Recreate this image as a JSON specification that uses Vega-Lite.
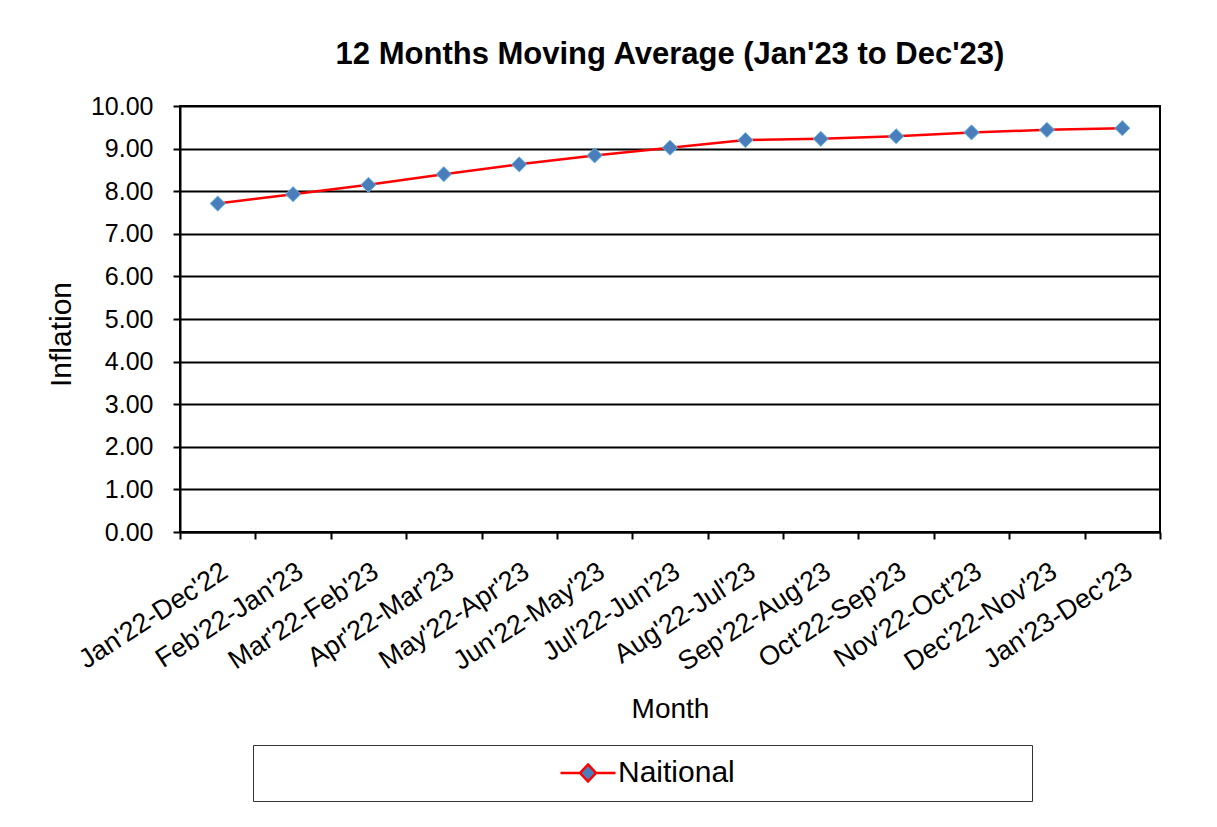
{
  "$schema": "https://vega.github.io/schema/vega-lite/v6.json",
  "width": 980,
  "height": 426,
  "autosize": {"type": "none"},
  "padding": {"left": 180, "top": 106, "right": 57, "bottom": 295},
  "background": "white",
  "title": {
    "text": "12 Months Moving Average (Jan'23 to Dec'23)",
    "fontSize": 31,
    "fontWeight": "bold",
    "font": "Liberation Sans",
    "color": "black",
    "offset": 23,
    "anchor": "middle"
  },
  "config": {
    "font": "Liberation Sans",
    "view": {"stroke": "black", "strokeWidth": 2},
    "axis": {
      "labelFont": "Liberation Sans",
      "titleFont": "Liberation Sans",
      "labelColor": "black",
      "titleColor": "black",
      "titleFontWeight": "normal",
      "domainColor": "black",
      "domainWidth": 2,
      "tickColor": "black",
      "tickWidth": 2,
      "gridColor": "black",
      "gridWidth": 2,
      "gridOpacity": 1
    }
  },
  "data": {
    "values": [
      {"month": "Jan'22-Dec'22", "inflation": 7.71, "series": "Naitional"},
      {"month": "Feb'22-Jan'23", "inflation": 7.93, "series": "Naitional"},
      {"month": "Mar'22-Feb'23", "inflation": 8.15, "series": "Naitional"},
      {"month": "Apr'22-Mar'23", "inflation": 8.40, "series": "Naitional"},
      {"month": "May'22-Apr'23", "inflation": 8.63, "series": "Naitional"},
      {"month": "Jun'22-May'23", "inflation": 8.84, "series": "Naitional"},
      {"month": "Jul'22-Jun'23", "inflation": 9.02, "series": "Naitional"},
      {"month": "Aug'22-Jul'23", "inflation": 9.20, "series": "Naitional"},
      {"month": "Sep'22-Aug'23", "inflation": 9.23, "series": "Naitional"},
      {"month": "Oct'22-Sep'23", "inflation": 9.29, "series": "Naitional"},
      {"month": "Nov'22-Oct'23", "inflation": 9.38, "series": "Naitional"},
      {"month": "Dec'22-Nov'23", "inflation": 9.44, "series": "Naitional"},
      {"month": "Jan'23-Dec'23", "inflation": 9.48, "series": "Naitional"}
    ]
  },
  "encoding": {
    "x": {
      "field": "month",
      "type": "nominal",
      "sort": null,
      "scale": {"type": "band", "paddingInner": 0, "paddingOuter": 0},
      "axis": {
        "title": "Month",
        "titleFontSize": 28,
        "titlePadding": 20,
        "labelFontSize": 27,
        "labelAngle": -33,
        "labelAlign": "right",
        "labelBaseline": "top",
        "labelPadding": 19,
        "tickBand": "extent",
        "tickSize": 7,
        "grid": false,
        "labelLimit": 300
      }
    },
    "y": {
      "field": "inflation",
      "type": "quantitative",
      "scale": {"domain": [0, 10], "nice": false, "zero": true},
      "axis": {
        "title": "Inflation",
        "titleFontSize": 30,
        "titlePadding": 14,
        "titleY": 228,
        "labelFontSize": 25,
        "labelPadding": 20,
        "format": ".2f",
        "values": [0, 1, 2, 3, 4, 5, 6, 7, 8, 9, 10],
        "tickSize": 7,
        "grid": true
      }
    }
  },
  "layer": [
    {
      "mark": {"type": "line", "strokeWidth": 2.5},
      "encoding": {
        "color": {
          "field": "series",
          "type": "nominal",
          "scale": {"range": ["#FF0000"]},
          "legend": {
            "title": null,
            "orient": "none",
            "legendX": 73,
            "legendY": 639,
            "direction": "vertical",
            "padding": 13,
            "strokeColor": "#333333",
            "fillColor": "white",
            "labelFontSize": 30,
            "labelFont": "Liberation Sans",
            "labelColor": "black",
            "labelLimit": 900,
            "clipHeight": 30,
            "symbolType": "M-1,0L-0.29,0M0.29,0L1,0M0,-0.31L0.29,0L0,0.31L-0.29,0Z",
            "symbolSize": 3025,
            "symbolStrokeWidth": 2.5,
            "symbolOffset": 293,
            "labelOffset": 1,
            "encode": {
              "symbols": {
                "update": {
                  "fill": {"value": "#4A7EBB"},
                  "stroke": {"value": "#FF0000"},
                  "opacity": {"value": 1}
                }
              },
              "labels": {
                "update": {
                  "text": {"signal": "pad(datum.label, 43, '\u00a0') + '\u200b'"}
                }
              }
            }
          }
        }
      }
    },
    {
      "mark": {
        "type": "point",
        "shape": "diamond",
        "filled": true,
        "size": 230,
        "fill": "#4A7EBB",
        "stroke": "#6CB8E8",
        "strokeWidth": 1,
        "opacity": 1
      }
    }
  ]
}
